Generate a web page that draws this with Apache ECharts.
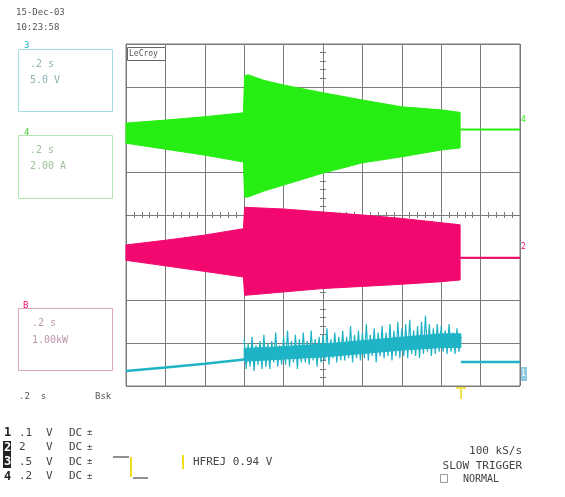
<!DOCTYPE html>
<html><head><meta charset="utf-8">
<script src="https://cdn.jsdelivr.net/npm/echarts@6/dist/echarts.min.js"></script>
<style>html,body{margin:0;padding:0;background:#fff}#c{width:565px;height:497px}</style>
</head><body><div id="c"></div><script>
// Time in seconds (0.2 s/div, screen centre = 0); amplitude in screen divisions
const ch4Time  = [-1.0, -0.8, -0.6, -0.404, -0.398, -0.38, -0.3, -0.2, 0.0, 0.2, 0.4, 0.6, 0.696];
const ch4Upper = [2.15, 2.22, 2.30, 2.39, 3.25, 3.28, 3.15, 3.04, 2.86, 2.69, 2.53, 2.46, 2.40];
const ch4Lower = [1.68, 1.54, 1.40, 1.24, 0.42, 0.42, 0.56, 0.70, 0.98, 1.22, 1.36, 1.52, 1.57];
const ch4TailTime  = [0.696, 1.0];
const ch4TailLevel = [2.0, 2.0];

const ch2Time  = [-1.0, -0.8, -0.6, -0.404, -0.398, -0.2, 0.0, 0.2, 0.4, 0.6, 0.696];
const ch2Upper = [-0.70, -0.59, -0.47, -0.32, 0.18, 0.14, 0.07, 0.00, -0.08, -0.18, -0.23];
const ch2Lower = [-1.06, -1.19, -1.32, -1.45, -1.88, -1.80, -1.72, -1.67, -1.62, -1.56, -1.52];
const ch2TailTime  = [0.696, 1.0];
const ch2TailLevel = [-1.0, -1.0];

const ch1PreTime  = [-1.0, -0.8, -0.6, -0.4];
const ch1PreLevel = [-3.65, -3.57, -3.48, -3.38];
const ch1CoreTime  = [-0.40, -0.2, 0.0, 0.2, 0.4, 0.6, 0.70];
const ch1CoreUpper = [-3.12, -3.08, -3.02, -2.94, -2.86, -2.78, -2.78];
const ch1CoreLower = [-3.42, -3.37, -3.32, -3.24, -3.16, -3.10, -3.10];
const ch1NoiseStart = -0.40, ch1NoiseStep = 0.01;  // sample spacing
const ch1Noise = [
 -2.90,-3.60,-3.00,-3.55,-2.85,-3.65,-3.05,-3.50,-2.95,-3.60,
 -2.80,-3.55,-3.00,-3.60,-2.95,-3.45,-2.75,-3.55,-3.05,-3.50,
 -2.85,-3.50,-2.70,-3.55,-2.95,-3.45,-2.80,-3.60,-2.90,-3.45,
 -2.75,-3.45,-2.95,-3.50,-2.70,-3.40,-2.90,-3.55,-2.85,-3.45,
 -2.80,-3.40,-2.65,-3.50,-2.90,-3.35,-2.75,-3.45,-2.85,-3.40,
 -2.70,-3.40,-2.85,-3.35,-2.60,-3.45,-2.80,-3.35,-2.70,-3.40,
 -2.75,-3.35,-2.55,-3.40,-2.80,-3.30,-2.65,-3.45,-2.75,-3.30,
 -2.60,-3.35,-2.75,-3.30,-2.55,-3.40,-2.70,-3.30,-2.50,-3.35,
 -2.65,-3.30,-2.55,-3.35,-2.45,-3.25,-2.70,-3.30,-2.60,-3.35,
 -2.50,-3.25,-2.35,-3.20,-2.55,-3.30,-2.65,-3.25,-2.55,-3.20,
 -2.60,-3.20,-2.70,-3.25,-2.55,-3.20,-2.75,-3.25,-2.65,-3.20,
 -2.85];
const ch1PostTime  = [0.70, 1.0];
const ch1PostLevel = [-3.44, -3.44];

const bottomRows = [
  {ch:'1', vdiv:'.1', unit:'V', cpl:'DC'},
  {ch:'2', vdiv:'2',  unit:'V', cpl:'DC'},
  {ch:'3', vdiv:'.5', unit:'V', cpl:'DC'},
  {ch:'4', vdiv:'.2', unit:'V', cpl:'DC'}
];

const GREEN = '#27ee12', PINK = '#f2086e', CYAN = '#1fb3c6', GRID = '#7a7a7a';
const MONO = '"DejaVu Sans Mono", monospace';

function band(time, up, lo, color) {
  return {
    type: 'custom', silent: true, z: 3,
    data: [[time[0], up[0]]],
    renderItem: function (params, api) {
      const pts = [];
      for (let i = 0; i < time.length; i++) pts.push(api.coord([time[i], up[i]]));
      for (let i = time.length - 1; i >= 0; i--) pts.push(api.coord([time[i], lo[i]]));
      return {type: 'polygon', shape: {points: pts}, style: {fill: color, stroke: color, lineWidth: 1}};
    }
  };
}
function line(data, color, w) {
  return {type: 'line', data: data, symbol: 'none', z: 4,
    lineStyle: {color: color, width: w}, animation: false};
}
const pairs = (time, lev) => time.map((t, i) => [t, lev[i]]);
const ch1NoiseData = ch1Noise.map((v, i) => [ch1NoiseStart + i * ch1NoiseStep, v]);

function txt(s, x, y, size, color, extra) {
  return {type: 'text', z: 10, style: Object.assign({text: s, x: x, y: y,
    font: size + 'px ' + MONO, fill: color, verticalAlign: 'middle'}, extra || {})};
}
function rect(x, y, w, h, stroke, fill) {
  return {type: 'rect', z: 9, shape: {x: x, y: y, width: w, height: h},
    style: {stroke: stroke, fill: fill || 'none', lineWidth: 1}};
}
function seg(x1, y1, x2, y2, color, w) {
  return {type: 'line', z: 9, shape: {x1: x1, y1: y1, x2: x2, y2: y2}, style: {stroke: color, lineWidth: w || 1}};
}

const graphics = [
  txt('15-Dec-03', 16, 13, 9, '#555'),
  txt('10:23:58', 16, 28, 9, '#555'),
  rect(18.5, 49.5, 94, 62, '#a6dde4'),
  txt('3', 24, 46, 9, CYAN),
  txt('.2 s', 30, 64, 10, '#8fb0b6'),
  txt('5.0 V', 30, 80, 10, '#8fb0b6'),
  rect(18.5, 135.5, 94, 63, '#b2e8b0'),
  txt('4', 24, 133, 9, '#44cc33'),
  txt('.2 s', 30, 150, 10, '#9abf96'),
  txt('2.00 A', 30, 166, 10, '#9abf96'),
  rect(18.5, 308.5, 94, 62, '#dca6c2'),
  txt('B', 23, 306, 9, PINK),
  txt('.2 s', 32, 323, 10, '#bf97ad'),
  txt('1.00kW', 32, 340, 10, '#bf97ad'),
  txt('.2  s', 19, 397, 9, '#555'),
  txt('Bsk', 95, 397, 9, '#555'),
  rect(127.5, 47.5, 38, 13, '#666', '#fff'),
  txt('LeCroy', 129, 54, 8, '#555'),
  txt('4', 521, 120, 8, GREEN),
  txt('2', 521, 247, 8, PINK),
  {type: 'rect', z: 9, shape: {x: 521, y: 367, width: 6, height: 14}, style: {fill: '#8ccbe0'}},
  txt('1', 521, 374, 8, '#fff'),
  seg(456, 388, 466, 388, '#f2e24a', 2),
  seg(461, 388, 461, 399, '#f2e24a', 2),
  {type: 'rect', z: 9, shape: {x: 3, y: 441, width: 8, height: 27}, style: {fill: '#222'}},
  seg(113, 457, 129, 457, '#222', 1),
  seg(131, 457, 131, 477, '#f0dd20', 2),
  seg(133, 478, 148, 478, '#222', 1),
  seg(183, 455, 183, 469, '#f0dd20', 2),
  txt('HFREJ 0.94 V', 193, 462, 11, '#444'),
  txt('100 kS/s', 522, 451, 11, '#444', {align: 'right'}),
  txt('SLOW TRIGGER', 522, 466, 11, '#444', {align: 'right'}),
  rect(440.5, 474.5, 7, 8, '#999'),
  txt('NORMAL', 463, 479, 10, '#444')
];
bottomRows.forEach((r, i) => {
  const y = 433 + i * 14.5;
  const inv = (i === 1 || i === 2);
  graphics.push(txt(r.ch, 4, y, 12, inv ? '#fff' : '#222', {font: 'bold 12px ' + MONO}));
  graphics.push(txt(r.vdiv, 19, y, 11, '#444'));
  graphics.push(txt(r.unit, 46, y, 11, '#444'));
  graphics.push(txt(r.cpl, 69, y, 11, '#444'));
  graphics.push(txt('±', 87, y, 9, '#444'));
});

const baseX = {type: 'value', min: -1, max: 1, interval: 0.2, axisLabel: {show: false}};
const baseY = {type: 'value', min: -4, max: 4, interval: 1, axisLabel: {show: false}};
const centreAxis = {
  axisLine: {show: true, onZero: true, lineStyle: {color: GRID}},
  axisTick: {show: true, inside: true, length: 3, lineStyle: {color: GRID}},
  minorTick: {show: true, splitNumber: 5, length: 3, lineStyle: {color: GRID}}
};
const option = {
  animation: false,
  backgroundColor: '#fff',
  grid: {left: 126, right: 45, top: 44, bottom: 111, show: true, borderColor: GRID, borderWidth: 1},
  xAxis: [
    Object.assign({}, baseX, centreAxis, {position: 'bottom', splitLine: {show: true, lineStyle: {color: GRID, width: 1}}}),
    Object.assign({}, baseX, centreAxis, {position: 'top', splitLine: {show: false}})
  ],
  yAxis: [
    Object.assign({}, baseY, centreAxis, {position: 'left', splitLine: {show: true, lineStyle: {color: GRID, width: 1}}}),
    Object.assign({}, baseY, centreAxis, {position: 'right', splitLine: {show: false}})
  ],
  series: [
    band(ch4Time, ch4Upper, ch4Lower, GREEN),
    line(pairs(ch4TailTime, ch4TailLevel), GREEN, 2),
    band(ch2Time, ch2Upper, ch2Lower, PINK),
    line(pairs(ch2TailTime, ch2TailLevel), PINK, 2),
    line(pairs(ch1PreTime, ch1PreLevel), CYAN, 2.5),
    band(ch1CoreTime, ch1CoreUpper, ch1CoreLower, CYAN),
    line(ch1NoiseData, CYAN, 1.2),
    line(pairs(ch1PostTime, ch1PostLevel), CYAN, 2.5)
  ],
  graphic: graphics
};
const chart = echarts.init(document.getElementById('c'), null, {renderer: 'canvas'});
chart.setOption(option);
</script></body></html>
